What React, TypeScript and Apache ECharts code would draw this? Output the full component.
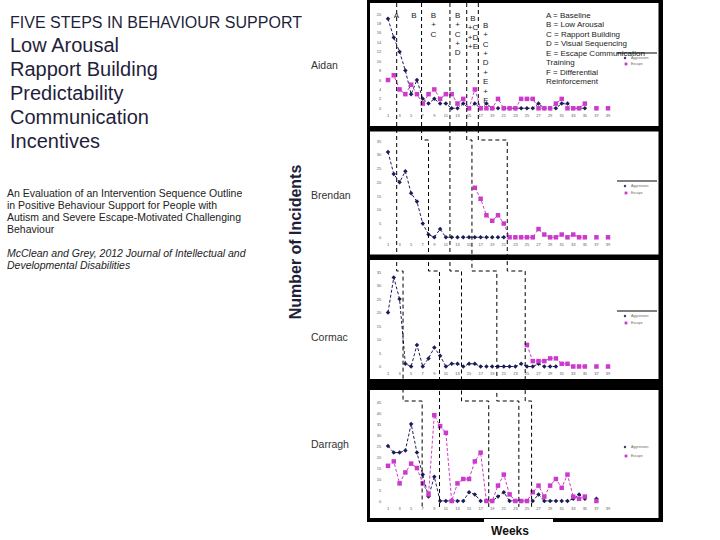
import React, { useEffect, useRef } from "react";
import * as echarts from "echarts";

// ---------- data ----------
const weeks = [1,2,3,4,5,6,7,8,9,10,11,12,13,14,15,16,17,18,19,20,21,22,23,24,25,26,27,28,29,30,31,32,33,34,35,36,37,38,39];
const weekTickLabels = [1,3,5,7,9,11,13,15,17,19,21,23,25,27,29,31,33,35,37,39];

const aidanAggression = [19,15,12,8,3,6,2,1,2,1,1,0,0,1,0,1,0,1,0,0,0,0,0,0,0,0,1,0,0,0,1,1,0,0,0,null,null,null,null];
const aidanEscape = [6,7,4,3,5,3,1,3,4,2,3,3,1,2,0,4,0,0,0,2,0,0,0,2,2,2,0,0,0,1,2,0,0,0,1,null,0,null,0];

const brendanAggression = [31,23,20,24,16,13,5,1,0,3,0,0,0,0,0,0,0,0,0,0,0,null,null,null,null,null,null,null,null,null,null,null,null,null,null,null,null,null,null];
const brendanEscape = [null,null,null,null,null,null,null,null,null,null,null,null,null,null,null,18,14,8,6,8,5,0,0,0,0,0,3,1,0,0,1,0,1,0,0,null,0,null,0];

const cormacAggression = [20,33,25,1,0,8,0,3,7,4,0,1,1,0,1,1,0,0,0,0,0,0,0,1,0,0,1,0,0,0,null,null,null,null,null,null,null,null,null];
const cormacEscape = [null,null,null,null,null,null,null,null,null,null,null,null,null,null,null,null,null,null,null,null,null,null,null,null,8,2,2,2,3,3,1,1,0,0,0,null,0,null,0];

const darraghAggression = [25,22,22,23,35,22,12,2,11,0,0,0,0,0,4,3,0,0,0,2,4,0,0,0,0,0,3,0,0,0,0,0,1,3,1,null,1,null,null];
const darraghEscape = [16,18,8,13,17,15,8,3,39,34,31,0,8,10,10,18,22,0,0,7,12,3,0,0,0,4,7,2,7,10,6,12,2,1,2,null,0,null,null];

// phase-change positions (in weeks) for each participant
const aidanPhases = [2.5, 6.8, 11.7, 14.6, 16.6];
const brendanPhases = [2.5, 8.0, 11.7, 15.5, 21.6];
const cormacPhases = [3.6, 9.9, 13.7, 19.8, 24.7];
const darraghPhases = [6.9, 9.9, 18.4, 23.6, 25.8];

const participants = ["Aidan", "Brendan", "Cormac", "Darragh"];
const yMaxes = [20, 35, 35, 45];
const ySteps = [2, 5, 5, 5];

const titleText = "FIVE STEPS IN BEHAVIOUR SUPPORT";
const steps = ["Low Arousal", "Rapport Building", "Predictability", "Communication", "Incentives"];
const paperLines = [
  "An Evaluation of an Intervention Sequence Outline",
  "in Positive Behaviour Support for People with",
  "Autism and Severe Escape-Motivated Challenging",
  "Behaviour",
];
const citationLines = [
  "McClean and Grey, 2012 Journal of Intellectual and",
  "Developmental Disabilities",
];
const phaseKey = [
  "A = Baseline",
  "B = Low Arousal",
  "C = Rapport Building",
  "D = Visual Sequencing",
  "E = Escape Communication",
  "Training",
  "F = Differential",
  "Reinforcement",
];
const seriesNames = ["Aggression", "Escape"];

// ---------- styles ----------
const FONT = "'Liberation Sans', Arial, Helvetica, sans-serif";
const NAVY = "#1c1c58";
const PINK = "#cc3acc";
const DARK = "#1f1f3c";

const gridBoxes = [
  { top: 14, height: 94.3 },
  { top: 141, height: 96.3 },
  { top: 272, height: 94.5 },
  { top: 402, height: 99 },
];
const GRID_LEFT = 382.2;
const GRID_WIDTH = 231.6;

const frames = [
  { y0: 0, y1: 129, iy0: 3, iy1: 126 },
  { y0: 129, y1: 257, iy0: 131.5, iy1: 254.5 },
  { y0: 257, y1: 390, iy0: 260, iy1: 379 },
  { y0: 383, y1: 522, iy0: 390, iy1: 518 },
];

const legendSpots = [
  { line: 53, a: 58, b: 64 },
  { line: 181, a: 186, b: 193 },
  { line: 311, a: 316, b: 323 },
  { line: null, a: 447, b: 456 },
];
const labelYs = [65, 195, 337, 444];

export default function App() {
  const ref = useRef<HTMLDivElement>(null);

  useEffect(() => {
    if (!ref.current) return;
    const chart = echarts.init(ref.current, null, { renderer: "svg" });
    const aggr = [aidanAggression, brendanAggression, cormacAggression, darraghAggression];
    const esc = [aidanEscape, brendanEscape, cormacEscape, darraghEscape];
    const phases = [aidanPhases, brendanPhases, cormacPhases, darraghPhases];

    const toPairs = (arr: (number | null)[]) =>
      arr.map((v, i) => [weeks[i], v === null ? "-" : v]);

    const grids = gridBoxes.map((g) => ({
      left: GRID_LEFT,
      width: GRID_WIDTH,
      top: g.top,
      height: g.height,
      outerBoundsMode: "none",
    }));
    const xAxes = gridBoxes.map((_, i) => ({
      gridIndex: i,
      type: "value",
      min: 0,
      max: 40,
      interval: 1,
      axisLine: { show: false },
      axisTick: { show: false },
      splitLine: { show: false },
      axisLabel: {
        fontSize: 4,
        color: "#555",
        margin: 5,
        fontFamily: FONT,
        formatter: (v: number) => (weekTickLabels.indexOf(v) >= 0 ? String(v) : ""),
      },
    }));
    const yAxes = gridBoxes.map((_, i) => ({
      gridIndex: i,
      type: "value",
      min: 0,
      max: yMaxes[i],
      interval: ySteps[i],
      axisLine: { show: false },
      axisTick: { show: false },
      splitLine: { show: false },
      axisLabel: { fontSize: 4, color: "#555", margin: 1, fontFamily: FONT },
    }));
    const series: any[] = [];
    for (let i = 0; i < 4; i++) {
      series.push({
        type: "line",
        name: seriesNames[0],
        xAxisIndex: i,
        yAxisIndex: i,
        data: toPairs(aggr[i]),
        symbol: "diamond",
        symbolSize: 4.5,
        showAllSymbol: true,
        itemStyle: { color: NAVY },
        lineStyle: { color: NAVY, width: 1, type: [3, 2] },
        z: 3,
      });
      series.push({
        type: "line",
        name: seriesNames[1],
        xAxisIndex: i,
        yAxisIndex: i,
        data: toPairs(esc[i]),
        symbol: "rect",
        symbolSize: 4.5,
        showAllSymbol: true,
        itemStyle: { color: PINK },
        lineStyle: { color: PINK, width: 1, type: [3, 2] },
        z: 4,
      });
    }

    chart.setOption({
      animation: false,
      backgroundColor: "#ffffff",
      grid: grids,
      xAxis: xAxes,
      yAxis: yAxes,
      series,
    });

    const g: any[] = [];
    // panel frames
    frames.forEach((f) => {
      g.push({ type: "rect", z: -2, shape: { x: 367, y: f.y0, width: 296, height: f.y1 - f.y0 }, style: { fill: "#000" } });
    });
    frames.forEach((f) => {
      g.push({ type: "rect", z: -1, shape: { x: 370, y: f.iy0, width: 288.5, height: f.iy1 - f.iy0 }, style: { fill: "#fff" } });
    });

    // phase change lines (multiple baseline staircase)
    const px = (gi: number, x: number, y: number) => chart.convertToPixel({ gridIndex: gi } as any, [x, y]) as number[];
    for (let k = 0; k < 5; k++) {
      const pts: number[][] = [];
      const start = px(0, phases[0][k], 0);
      pts.push([start[0], 3]);
      for (let gi = 1; gi < 4; gi++) {
        const prev = px(gi - 1, phases[gi - 1][k], 0);
        const cur = px(gi, phases[gi][k], yMaxes[gi]);
        const yTop = cur[1] - 1;
        pts.push([prev[0], yTop]);
        pts.push([cur[0], yTop]);
      }
      const end = px(3, phases[3][k], 0);
      pts.push([end[0], end[1] + 6]);
      g.push({
        type: "polyline",
        z: 5,
        shape: { points: pts },
        style: { stroke: "#000", lineWidth: 1, lineDash: [4, 3], fill: null },
      });
    }

    // phase labels in Aidan panel
    const phaseLbl = (text: string, x: number, y: number) =>
      g.push({
        type: "text",
        z: 10,
        x,
        y,
        style: { text, fill: "#222", fontSize: 8, fontFamily: FONT, textAlign: "center", textVerticalAlign: "top", lineHeight: 9.4 },
      });
    phaseLbl("A", 396.5, 10.5);
    phaseLbl("B", 414, 10.5);
    phaseLbl("B\n+\nC", 433.5, 10.5);
    phaseLbl("B\n+\nC\n+\nD", 457.7, 10.5);
    phaseLbl("B\n+C\n+D\n+E", 473, 13.5);
    phaseLbl("B\n+\nC\n+\nD\n+\nE\n+\nF", 485.7, 20.5);

    // key
    g.push({
      type: "text",
      z: 10,
      x: 546,
      y: 10.3,
      style: { text: phaseKey.join("\n"), fill: "#222", fontSize: 8, fontFamily: FONT, textAlign: "left", textVerticalAlign: "top", lineHeight: 9.5 },
    });

    // small legends
    legendSpots.forEach((s) => {
      if (s.line !== null) {
        g.push({ type: "line", z: 10, shape: { x1: 617, y1: s.line, x2: 657, y2: s.line }, style: { stroke: "#000", lineWidth: 1 } });
      }
      g.push({
        type: "polygon",
        z: 10,
        shape: { points: [[625, s.a - 1.6], [626.4, s.a], [625, s.a + 1.6], [623.6, s.a]] },
        style: { fill: NAVY },
      });
      g.push({ type: "rect", z: 10, shape: { x: 624.6, y: s.b - 1.4, width: 2.8, height: 2.8 }, style: { fill: PINK } });
      g.push({ type: "text", z: 10, x: 631, y: s.a, style: { text: seriesNames[0], fill: "#666", fontSize: 3.5, fontFamily: FONT, textVerticalAlign: "middle" } });
      g.push({ type: "text", z: 10, x: 631, y: s.b, style: { text: seriesNames[1], fill: "#666", fontSize: 3.5, fontFamily: FONT, textVerticalAlign: "middle" } });
    });

    // participant names
    participants.forEach((name, i) => {
      g.push({ type: "text", z: 10, x: 311, y: labelYs[i], style: { text: name, fill: "#333", fontSize: 10.5, fontFamily: FONT, textVerticalAlign: "middle" } });
    });

    // left side texts
    g.push({ type: "text", z: 10, x: 10, y: 22, style: { text: titleText, fill: DARK, fontSize: 16, fontFamily: FONT, textVerticalAlign: "middle" } });
    steps.forEach((s, i) => {
      g.push({ type: "text", z: 10, x: 10, y: 45 + i * 24, style: { text: s, fill: DARK, fontSize: 20, fontFamily: FONT, textVerticalAlign: "middle" } });
    });
    paperLines.forEach((s, i) => {
      g.push({ type: "text", z: 10, x: 7, y: 192.7 + i * 12.2, style: { text: s, fill: "#222", fontSize: 10.5, fontFamily: FONT, textVerticalAlign: "middle" } });
    });
    citationLines.forEach((s, i) => {
      g.push({ type: "text", z: 10, x: 7, y: 252.7 + i * 12.2, style: { text: s, fill: "#222", fontSize: 10.5, fontStyle: "italic", fontFamily: FONT, textVerticalAlign: "middle" } });
    });

    // y-axis title
    g.push({
      type: "text",
      z: 10,
      x: 295,
      y: 242,
      rotation: Math.PI / 2,
      style: { text: "Number of Incidents", fill: DARK, fontSize: 16, fontWeight: "bold", fontFamily: FONT, textAlign: "center", textVerticalAlign: "middle" },
    });

    // x-axis title
    g.push({ type: "rect", z: 9, shape: { x: 484, y: 519, width: 69, height: 21 }, style: { fill: "#fff" } });
    g.push({ type: "text", z: 10, x: 510, y: 531, style: { text: "Weeks", fill: "#111", fontSize: 12, fontWeight: "bold", fontFamily: FONT, textAlign: "center", textVerticalAlign: "middle" } });

    chart.setOption({ graphic: { elements: g } });

    return () => chart.dispose();
  }, []);

  return <div ref={ref} style={{ position: "absolute", left: 0, top: 0, width: 720, height: 540 }} />;
}
